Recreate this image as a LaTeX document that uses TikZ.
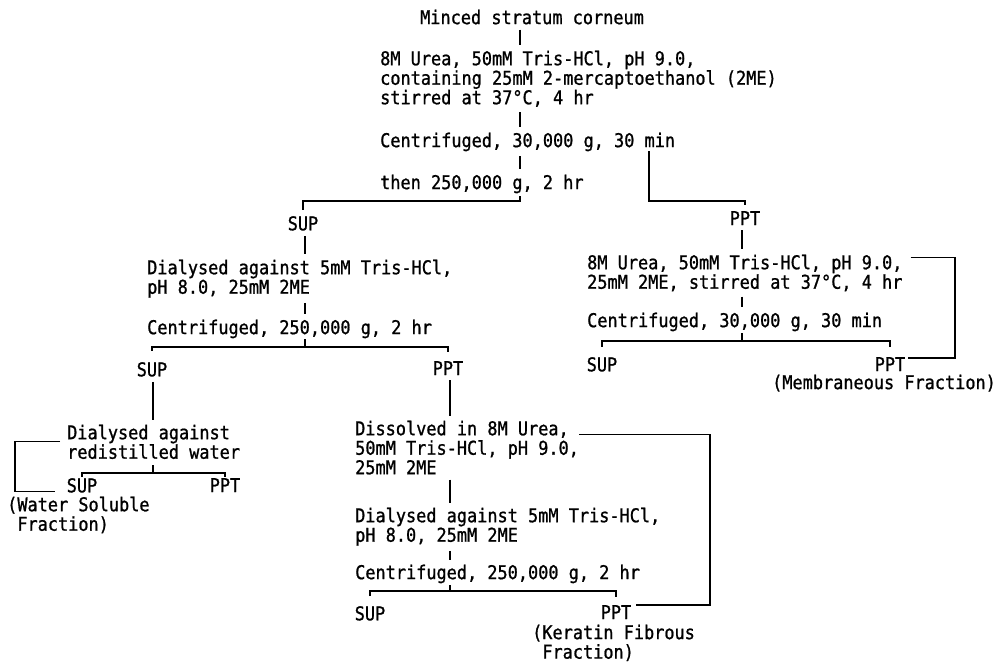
\documentclass[tikz,border=0pt]{standalone}
\usepackage{fontspec}
\newfontfamily\twfont[FakeStretch=0.889,FakeBold=1]{DejaVu Sans Mono}
\begin{document}
\begin{tikzpicture}[x=1pt,y=-1pt]
  \tikzstyle{proc} = [font=\twfont\fontsize{19}{19.5}\selectfont, inner sep=0pt, align=left, anchor=north west]
  \tikzstyle{frac} = [proc, anchor=north]
  \tikzstyle{link} = [line width=1.3pt, shorten <=5pt, shorten >=5pt]
  \tikzstyle{back} = [line width=1.3pt]

  \useasboundingbox (0,0) rectangle (997,663);

  % Extraction
  \node [proc] (minced) at (420,9.5) {Minced stratum corneum};
  \node [proc] (urea) at (380,50.5) {8M Urea, 50mM Tris-HCl, pH 9.0,\\containing 25mM 2-mercaptoethanol (2ME)\\stirred at 37°C, 4 hr};
  \node [proc] (cent1) at (380,132.5) {Centrifuged, 30,000 g, 30 min};
  \node [proc] (then) at (380,174.5) {then 250,000 g, 2 hr};

  % Supernatant branch
  \node [frac] (sup1) at (303,216) {SUP};
  \node [proc] (dial1) at (147,259.5) {Dialysed against 5mM Tris-HCl,\\pH 8.0, 25mM 2ME};
  \node [proc] (cent2) at (147,319.5) {Centrifuged, 250,000 g, 2 hr};
  \node [frac] (sup2) at (152,362) {SUP};
  \node [frac] (ppt2) at (448,361) {PPT};

  % Water soluble
  \node [proc] (dial2) at (67,424.5) {Dialysed against\\redistilled water};
  \node [frac] (sup3) at (82,478) {SUP};
  \node [frac] (ppt3) at (225,478) {PPT};
  \node [proc] (water) at (7,496.5) {(Water Soluble\\\hphantom{(}Fraction)};

  % Keratin fibrous
  \node [proc] (dissolve) at (355,420.5) {Dissolved in 8M Urea,\\50mM Tris-HCl, pH 9.0,\\25mM 2ME};
  \node [proc] (dial3) at (355,507.5) {Dialysed against 5mM Tris-HCl,\\pH 8.0, 25mM 2ME};
  \node [proc] (cent3) at (355,564.5) {Centrifuged, 250,000 g, 2 hr};
  \node [frac] (sup4) at (370,606) {SUP};
  \node [frac] (ppt4) at (616,605) {PPT};
  \node [proc] (keratin) at (532,624.5) {(Keratin Fibrous\\\hphantom{(}Fraction)};

  % Precipitate branch
  \node [frac] (ppt1) at (745,211) {PPT};
  \node [proc] (urea2) at (587,254.5) {8M Urea, 50mM Tris-HCl, pH 9.0,\\25mM 2ME, stirred at 37°C, 4 hr};
  \node [proc] (cent4) at (587,312.5) {Centrifuged, 30,000 g, 30 min};
  \node [frac] (sup5) at (602,357) {SUP};
  \node [frac] (ppt5) at (890,357) {PPT};
  \node [proc] (membr) at (772,374.5) {(Membraneous Fraction)};

  % Junctions
  \coordinate (j1) at (520,201);
  \coordinate (j2) at (649,201);
  \coordinate (b2) at (742,341);
  \coordinate (b3) at (305,347);
  \coordinate (b4) at (153,473);
  \coordinate (b5) at (450,591);
  \coordinate (r1) at (955,0);
  \coordinate (r2) at (710,0);
  \coordinate (l1) at (15,0);

  % Main line
  \draw [link] (minced.south -| j1) -- (urea.north -| j1);
  \draw [link] (urea.south -| j1) -- (cent1.north -| j1);
  \draw [link] (cent1.south -| j1) -- (then.north -| j1);
  \draw [link, shorten <=3pt, shorten >=6pt] (then.south -| j1) -- (j1) -| (sup1.north);
  \draw [link, shorten <=0pt, shorten >=6pt] (cent1.south -| j2) -- (j2) -| (ppt1.north);

  % Right side
  \draw [link] (ppt1.south -| b2) -- (urea2.north -| b2);
  \draw [link] (urea2.south -| b2) -- (cent4.north -| b2);
  \draw [link, shorten <=2pt, shorten >=0pt] (cent4.south -| b2) -- (b2);
  \draw [link, shorten <=10pt, shorten >=10pt] (sup5.north) |- (b2) -| (ppt5.north);
  \draw [back] ([xshift=8pt,yshift=-3pt]urea2.north east) -| ([yshift=6pt]r1 |- ppt5.east) -- ([xshift=3pt,yshift=6pt]ppt5.east);

  % Left side
  \draw [link] (sup1.south -| b3) -- (dial1.north -| b3);
  \draw [link] (dial1.south -| b3) -- (cent2.north -| b3);
  \draw [link, shorten <=1pt, shorten >=0pt] (cent2.south -| b3) -- (b3);
  \draw [link, shorten <=11pt, shorten >=9pt] (sup2.north) |- (b3) -| (ppt2.north);
  \draw [link] (sup2.south -| b4) -- (dial2.north -| b4);
  \draw [link, shorten <=6pt, shorten >=0pt] (dial2.south -| b4) -- (b4);
  \draw [link, shorten <=1pt, shorten >=1pt] (sup3.north) |- (b4) -| (ppt3.north);
  \draw [back] ([xshift=-7pt,yshift=-17pt]dial2.north west) -| ([yshift=-6pt]l1 |- sup3.west) -- ([xshift=-12pt,yshift=-6pt]sup3.west);

  % Middle
  \draw [link] (ppt2.south -| b5) -- (dissolve.north -| b5);
  \draw [link] (dissolve.south -| b5) -- (dial3.north -| b5);
  \draw [link] (dial3.south -| b5) -- (cent3.north -| b5);
  \draw [link, shorten <=2pt, shorten >=0pt] (cent3.south -| b5) -- (b5);
  \draw [link, shorten <=10pt, shorten >=8pt] (sup4.north) |- (b5) -| (ppt4.north);
  \draw [back] ([yshift=-14pt]dissolve.north east) -| ([yshift=7pt]r2 |- ppt4.east) -- ([xshift=5pt,yshift=7pt]ppt4.east);
\end{tikzpicture}
\end{document}
